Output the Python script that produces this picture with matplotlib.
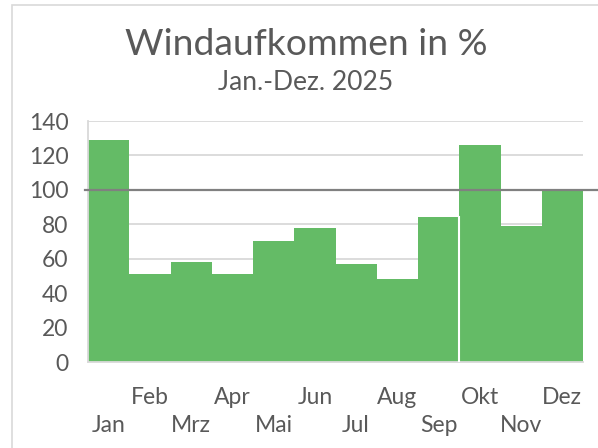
import matplotlib.pyplot as plt
from matplotlib.patches import Rectangle

# Daten
monate = ['Jan', 'Feb', 'Mrz', 'Apr', 'Mai', 'Jun', 'Jul', 'Aug', 'Sep', 'Okt', 'Nov', 'Dez']
wind = [129, 51, 58, 51, 70, 78, 57, 48, 84, 126, 79, 100]
referenz = 100

plt.rcParams['font.family'] = ['Lato', 'DejaVu Sans']
textfarbe = '#595959'

fig = plt.figure(figsize=(5.98, 4.48), dpi=100)
ax = fig.add_axes([88 / 598, 86 / 448, 495 / 598, 241 / 448])

x = range(len(monate))
ax.bar(x, wind, width=1.0, color='#64bb66', linewidth=0, zorder=2)
# schmale Lücke zwischen Sep und Okt
ax.plot([8.5, 8.5], [0, min(wind[8], wind[9])], color='white', lw=1.5, zorder=3)

ax.axhline(referenz, xmin=-0.006, xmax=1.04, color='#808080', lw=1.6, zorder=4, clip_on=False)

ax.set_xlim(-0.5, 11.5)
ax.set_ylim(0, 140)
ax.set_yticks(range(0, 141, 20))
ax.grid(axis='y', color='#d9d9d9', lw=1.3, zorder=0)
ax.set_axisbelow(True)

labels = [m if i % 2 else '\n' + m for i, m in enumerate(monate)]
ax.set_xticks(list(x))
ax.set_xticklabels(labels, linespacing=1.42)
ax.tick_params(axis='both', length=0, labelsize=16.5, colors=textfarbe)
ax.tick_params(axis='x', pad=18)
ax.tick_params(axis='y', pad=14)

for s in ['top', 'right']:
    ax.spines[s].set_visible(False)
for s in ['left', 'bottom']:
    ax.spines[s].set_color('#d9d9d9')
    ax.spines[s].set_linewidth(1.3)

fig.text(306 / 598, 1 - 55 / 448, 'Windaufkommen in %', ha='center', va='baseline',
         fontsize=26.8, color=textfarbe)
fig.text(306 / 598, 1 - 90 / 448, 'Jan.-Dez. 2025', ha='center', va='baseline',
         fontsize=19, color=textfarbe)

# äußerer Rahmen
fig.patches.append(Rectangle((12 / 598, -0.1), 1.1, 1.1 - 5 / 448,
                             transform=fig.transFigure, fill=False,
                             edgecolor='#d9d9d9', lw=1.2))

fig.savefig('out.png', dpi=100)
